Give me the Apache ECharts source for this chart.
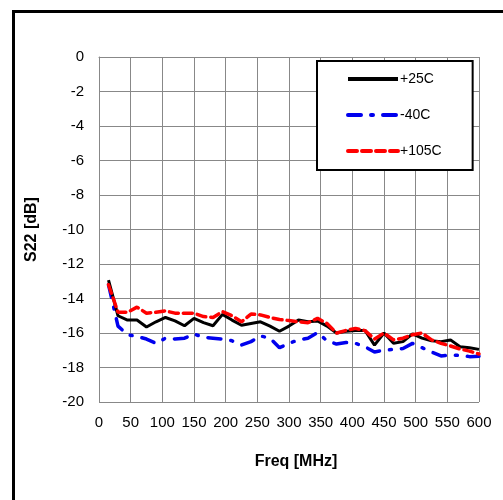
<!DOCTYPE html>
<html>
<head>
<meta charset="utf-8">
<script src="https://cdn.jsdelivr.net/npm/echarts@6/dist/echarts.min.js"></script>
<style>
html,body{margin:0;padding:0;background:#fff;}
#chart{width:503px;height:500px;}
</style>
</head>
<body>
<div id="chart"></div>
<script>
var freqs = [15,30,45,60,75,90,105,120,135,150,165,180,195,210,225,240,255,270,285,300,
             315,330,345,360,375,390,405,420,435,450,465,480,495,510,525,540,555,570,585,600];
var s25 = [-12.93,-15.0,-15.25,-15.25,-15.65,-15.35,-15.1,-15.3,-15.58,-15.15,
           -15.4,-15.58,-14.92,-15.25,-15.55,-15.45,-15.35,-15.6,-15.9,-15.6,
           -15.25,-15.35,-15.3,-15.6,-16.0,-15.9,-15.85,-15.85,-16.7,-16.0,
           -16.6,-16.5,-16.05,-16.3,-16.45,-16.5,-16.4,-16.8,-16.85,-16.95];
var sM40 = [-13.2,-15.6,-16.1,-16.2,-16.35,-16.6,-16.3,-16.35,-16.3,-16.06,
            -16.25,-16.3,-16.35,-16.45,-16.7,-16.5,-16.17,-16.3,-16.85,-16.6,
            -16.4,-16.3,-15.98,-16.45,-16.64,-16.55,-16.6,-16.8,-17.1,-17.0,
            -16.95,-16.9,-16.6,-16.85,-17.1,-17.33,-17.28,-17.3,-17.37,-17.35];
var s105 = [-13.2,-14.8,-14.8,-14.5,-14.85,-14.8,-14.72,-14.85,-14.86,-14.86,
            -15.05,-15.1,-14.76,-15.0,-15.35,-14.9,-14.95,-15.1,-15.22,-15.28,
            -15.35,-15.4,-15.15,-15.45,-16.0,-15.85,-15.73,-15.86,-16.35,-16.0,
            -16.4,-16.3,-16.1,-16.0,-16.4,-16.6,-16.75,-16.93,-17.05,-17.22];
var seriesNames = ['+25C','-40C','+105C'];

function pairs(vals){ return freqs.map(function(f,i){ return [f, vals[i]]; }); }

var FONT = '"Liberation Sans", Arial, sans-serif';
var chart = echarts.init(document.getElementById('chart'), null, {renderer:'canvas'});
chart.setOption({
  animation:false,
  backgroundColor:'#ffffff',
  graphic:[{
    type:'rect', left:11, top:9, z:100, silent:true,
    shape:{x:0,y:0,width:560,height:560},
    style:{fill:null, stroke:'#000', lineWidth:3}
  }],
  grid:{left:99, right:24, top:57, bottom:98, containLabel:false},
  legend:{
    orient:'vertical', left:317, top:61,
    data:seriesNames,
    itemWidth:50, itemHeight:14, itemGap:22,
    padding:[11,31,12,29],
    borderColor:'#000', borderWidth:2,
    backgroundColor:'#fff',
    itemStyle:{opacity:0},
    lineStyle:{width:4},
    textStyle:{fontFamily:FONT, fontSize:14, color:'#000', padding:[0,0,0,-3]}
  },
  xAxis:{
    type:'value', min:0, max:600, interval:50,
    name:'Freq [MHz]', nameLocation:'middle', nameGap:52,
    nameTextStyle:{fontFamily:FONT, fontSize:16, fontWeight:'bold', color:'#000', padding:[0,0,0,14]},
    axisLine:{show:true, lineStyle:{color:'#888', width:1}},
    axisTick:{show:false},
    axisLabel:{fontFamily:FONT, fontSize:15, color:'#000', margin:13},
    splitLine:{show:true, lineStyle:{color:'#888', width:1}}
  },
  yAxis:{
    type:'value', min:-20, max:0, interval:2,
    name:'S22 [dB]', nameLocation:'middle', nameGap:59, nameRotate:90,
    nameTextStyle:{fontFamily:FONT, fontSize:16, fontWeight:'bold', color:'#000'},
    axisLine:{show:true, lineStyle:{color:'#888', width:1}},
    axisTick:{show:false},
    axisLabel:{fontFamily:FONT, fontSize:15, color:'#000', margin:15},
    splitLine:{show:true, lineStyle:{color:'#888', width:1}}
  },
  series:[
    {name:seriesNames[0], type:'line', data:pairs(s25), showSymbol:false, symbol:'none',
     lineStyle:{color:'#000', width:3}, itemStyle:{color:'#000'}, z:3},
    {name:seriesNames[1], type:'line', data:pairs(sM40), showSymbol:false, symbol:'none',
     lineStyle:{color:'#0000ee', width:3.5, type:[13,10,2,10], cap:'round'}, itemStyle:{color:'#0000ee'}, z:2},
    {name:seriesNames[2], type:'line', data:pairs(s105), showSymbol:false, symbol:'none',
     lineStyle:{color:'#ff0000', width:3.5, type:[9,5], cap:'round'}, itemStyle:{color:'#ff0000'}, z:4}
  ]
});
</script>
</body>
</html>
